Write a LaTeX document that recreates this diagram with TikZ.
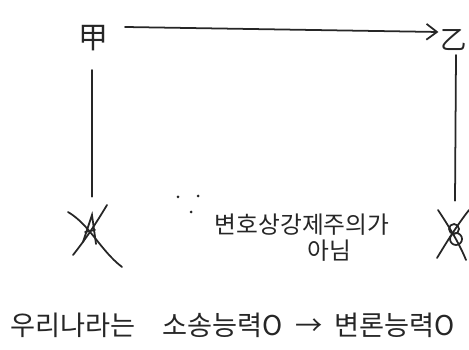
\documentclass[tikz,border=0pt]{standalone}
\usepackage{fontspec}
\newfontfamily\kr{Noto Sans CJK KR}
\usetikzlibrary{arrows.meta, positioning}

\begin{document}
\begin{tikzpicture}[x=0.02cm, y=-0.02cm,
	pen/.style={line width=1pt, draw=black!85, line cap=round},
	hand/.style={font=\kr\fontsize{13.5}{15}\selectfont, text=black!85, inner sep=1pt},
	crossmark/.style={minimum width=0.9cm, minimum height=1.4cm}]
	% Frame:
	\clip (0, 0) rectangle (469, 350);
	\useasboundingbox (0, 0) rectangle (469, 350);
	% Parties:
	\node[hand, font=\kr\fontsize{17}{19}\selectfont](A) at (93, 38){甲};
	\node[hand, font=\kr\fontsize{15}{17}\selectfont, anchor=east](B) at (469, 40){乙};
	\draw[pen, -{Straight Barb[length=6pt, width=9pt]}] (125, 27) -- ([yshift=0.16cm]B.west);
	% Crossed marks:
	\node[crossmark](MA) at (92, 232){};
	\node[crossmark](MB) at (455, 236){};
	\draw[pen] (92, 70) -- (MA.north);
	\draw[pen] (456, 55) -- (MB.north);
	\draw[pen] (68, 212) .. controls (90, 225) and (100, 250) .. (122, 267);
	\draw[pen] (107, 205) .. controls (95, 225) and (85, 240) .. (73, 255);
	\draw[pen] (83, 242) -- (92, 215) -- (96, 244) (85, 232) -- (95, 230);
	\draw[pen] (438, 210) .. controls (450, 228) and (460, 245) .. (466, 260);
	\draw[pen] (469, 210) .. controls (455, 228) and (445, 245) .. (437, 258);
	\draw[pen] (454, 229) circle (5) (456, 239) circle (6);
	% Because:
	\fill[black!85] (178, 197) circle (1.5) (198, 196) circle (1.5) (191, 212) circle (1.5);
	% Notes:
	\node[hand](N1) at (302, 225){변호상강제주의가};
	\node[hand, below=0pt of N1.south, xshift=0.55cm](N2){아님};
	\node[hand, font=\kr\fontsize{15.5}{17}\selectfont, anchor=west](N3) at (8, 325){우리나라는\quad 소송능력O \ → \ 변론능력O};
\end{tikzpicture}
\end{document}
